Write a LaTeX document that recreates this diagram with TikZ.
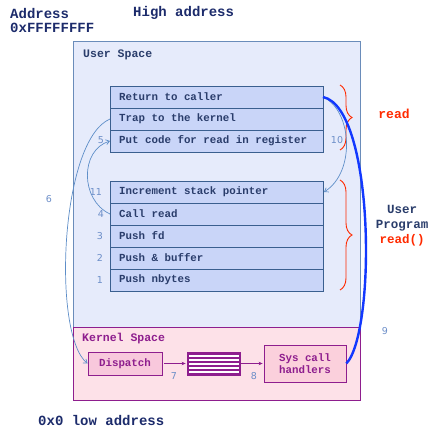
\documentclass[tikz,border=0pt]{standalone}
\usepackage{fontspec}
\setmonofont{Liberation Mono}
\setsansfont{DejaVu Sans}
\usetikzlibrary{arrows.meta,decorations.pathreplacing}
\definecolor{navy}{HTML}{1C2B6B}
\definecolor{rowtext}{HTML}{2A3D6B}
\definecolor{numc}{HTML}{6C8EC8}
\definecolor{thinc}{HTML}{5E8EC8}
\definecolor{thick}{HTML}{1238FF}
\definecolor{purp}{HTML}{8E1E8E}
\definecolor{redc}{HTML}{FF2A00}
\definecolor{userfill}{HTML}{E6EBFB}
\definecolor{userdraw}{HTML}{6A8CBA}
\definecolor{rowfill}{HTML}{C9D5F8}
\definecolor{rowdraw}{HTML}{3A5F8F}
\definecolor{kernfill}{HTML}{FDE1E8}
\definecolor{dispfill}{HTML}{F8C8DC}
\definecolor{sysfill}{HTML}{FBD0DC}
\tikzset{
  title/.style={font=\ttfamily\bfseries\fontsize{14}{16}\selectfont, text=navy, anchor=west, inner sep=0pt},
  spacelabel/.style={font=\ttfamily\bfseries\fontsize{11.5}{13}\selectfont, anchor=west, inner sep=0pt},
  rowbox/.style={draw=rowdraw, fill=rowfill, line width=0.8pt},
  rowlabel/.style={font=\ttfamily\bfseries\fontsize{10.8}{12}\selectfont, text=rowtext, anchor=west, inner sep=0pt},
  num/.style={font=\sffamily\fontsize{9.5}{11}\selectfont, text=numc, inner sep=0pt},
  thinarrow/.style={draw=thinc, line width=0.7pt, -{Straight Barb[length=3.5pt,width=5pt]}},
  purparrow/.style={draw=purp, line width=0.7pt, -{Stealth[length=4pt,width=3.5pt]}},
  redbrace/.style={draw=redc, line width=0.9pt, decorate, decoration={brace, amplitude=12pt, aspect=0.5}},
  kbox/.style={draw=purp, line width=0.8pt, font=\ttfamily\bfseries\fontsize{10.8}{12}\selectfont, text=purp, align=center}
}
\begin{document}
\begin{tikzpicture}[x=1pt,y=-1pt]
\useasboundingbox (0,0) rectangle (428,428);
% titles
\node[title] (addr) at (10,13) {Address};
\node[title] (ffff) at (10,28) {0xFFFFFFFF};
\node[title] (high) at (133,13) {High address};
\node[title] (low) at (38,420.5) {0x0 low address};
% spaces
\draw[fill=userfill, draw=userdraw, line width=0.9pt] (73,41) rectangle (360,327);
\draw[fill=kernfill, draw=purp, line width=0.9pt] (73,327) rectangle (360,400);
\node[spacelabel, text=rowtext] (us) at (83,55) {User Space};
\node[spacelabel, text=purp] (ks) at (82,339) {Kernel Space};
% upper stack
\draw[rowbox] (110,86) rectangle (323,108);
\draw[rowbox] (110,108) rectangle (323,130);
\draw[rowbox] (110,130) rectangle (323,152);
\node[rowlabel] (ret) at (119,97) {Return to caller};
\node[rowlabel] (trap) at (119,119) {Trap to the kernel};
\node[rowlabel] (put) at (119,141) {Put code for read in register};
\coordinate (retR) at (323,97);
\coordinate (trapL) at (110,119);
\coordinate (putL) at (110,141);
% lower stack
\draw[rowbox] (110,181) rectangle (323,203);
\draw[rowbox] (110,203) rectangle (323,225);
\draw[rowbox] (110,225) rectangle (323,247);
\draw[rowbox] (110,247) rectangle (323,269);
\draw[rowbox] (110,269) rectangle (323,291);
\node[rowlabel] (inc) at (119,192) {Increment stack pointer};
\node[rowlabel] (call) at (119,214) {Call read};
\node[rowlabel] (pfd) at (119,236) {Push fd};
\node[rowlabel] (pbuf) at (119,258) {Push \& buffer};
\node[rowlabel] (pnb) at (119,280) {Push nbytes};
\coordinate (incR) at (324,192);
\coordinate (callL) at (110,214);
% kernel boxes
\node[kbox, fill=dispfill, minimum width=74pt, minimum height=23pt, inner sep=0pt] (disp) at (125,363.5) {Dispatch};
\fill[purp] (187,352) rectangle (240,375);
\foreach \yy in {354.6,358.6,362.6,366.6,370.6} \fill[white] (188.5,\yy) rectangle (238.5,\yy+2);
\node[draw=purp, line width=0.8pt, minimum width=53pt, minimum height=23pt, inner sep=0pt] (table) at (213.5,363.5) {};
\node[kbox, fill=sysfill, minimum width=82pt, minimum height=37pt, inner sep=0pt] (sys) at (305,363.5) {Sys call\\handlers};
\draw[purparrow] (disp.east) ++(2,0) -- ([xshift=-1pt]table.west);
\draw[purparrow] (table.east) ++(1,0) -- ([xshift=-1pt]sys.west);
% braces
\draw[redbrace] (340,85) -- (340,150);
\draw[redbrace] (340,180) -- (340,290);
\node[font=\ttfamily\bfseries\fontsize{13}{15}\selectfont, text=redc, inner sep=0pt] (rdl) at (394,114) {read};
\node[font=\ttfamily\bfseries\fontsize{12.5}{15}\selectfont, text=rowtext, align=center, inner sep=0pt] (up) at (402,226) {User\\Program\\\textcolor{redc}{read()}};
% thin arrows
\draw[thinarrow] (retR) .. controls (352,110) and (356,172) .. (incR);
\draw[thinarrow] (trapL) .. controls (60,140) and (52,335) .. (disp.west);
\draw[thinarrow] (callL) .. controls (80,200) and (80,150) .. (putL);
% thick
\draw[draw=thick, line width=2.4pt] (retR) .. controls (375,108) and (376,332) .. (sys.east);
% numbers
\node[num] (n5) at (101,140) {5};
\node[num] (n11) at (96,192) {11};
\node[num] (n4) at (101,214) {4};
\node[num] (n3) at (100,236) {3};
\node[num] (n2) at (100,258) {2};
\node[num] (n1) at (100,280) {1};
\node[num] (n6) at (49,199) {6};
\node[num] (n10) at (337,140) {10};
\node[num] (n9) at (385,331) {9};
\node[num] (n7) at (174,376) {7};
\node[num] (n8) at (254,376) {8};
\end{tikzpicture}
\end{document}
